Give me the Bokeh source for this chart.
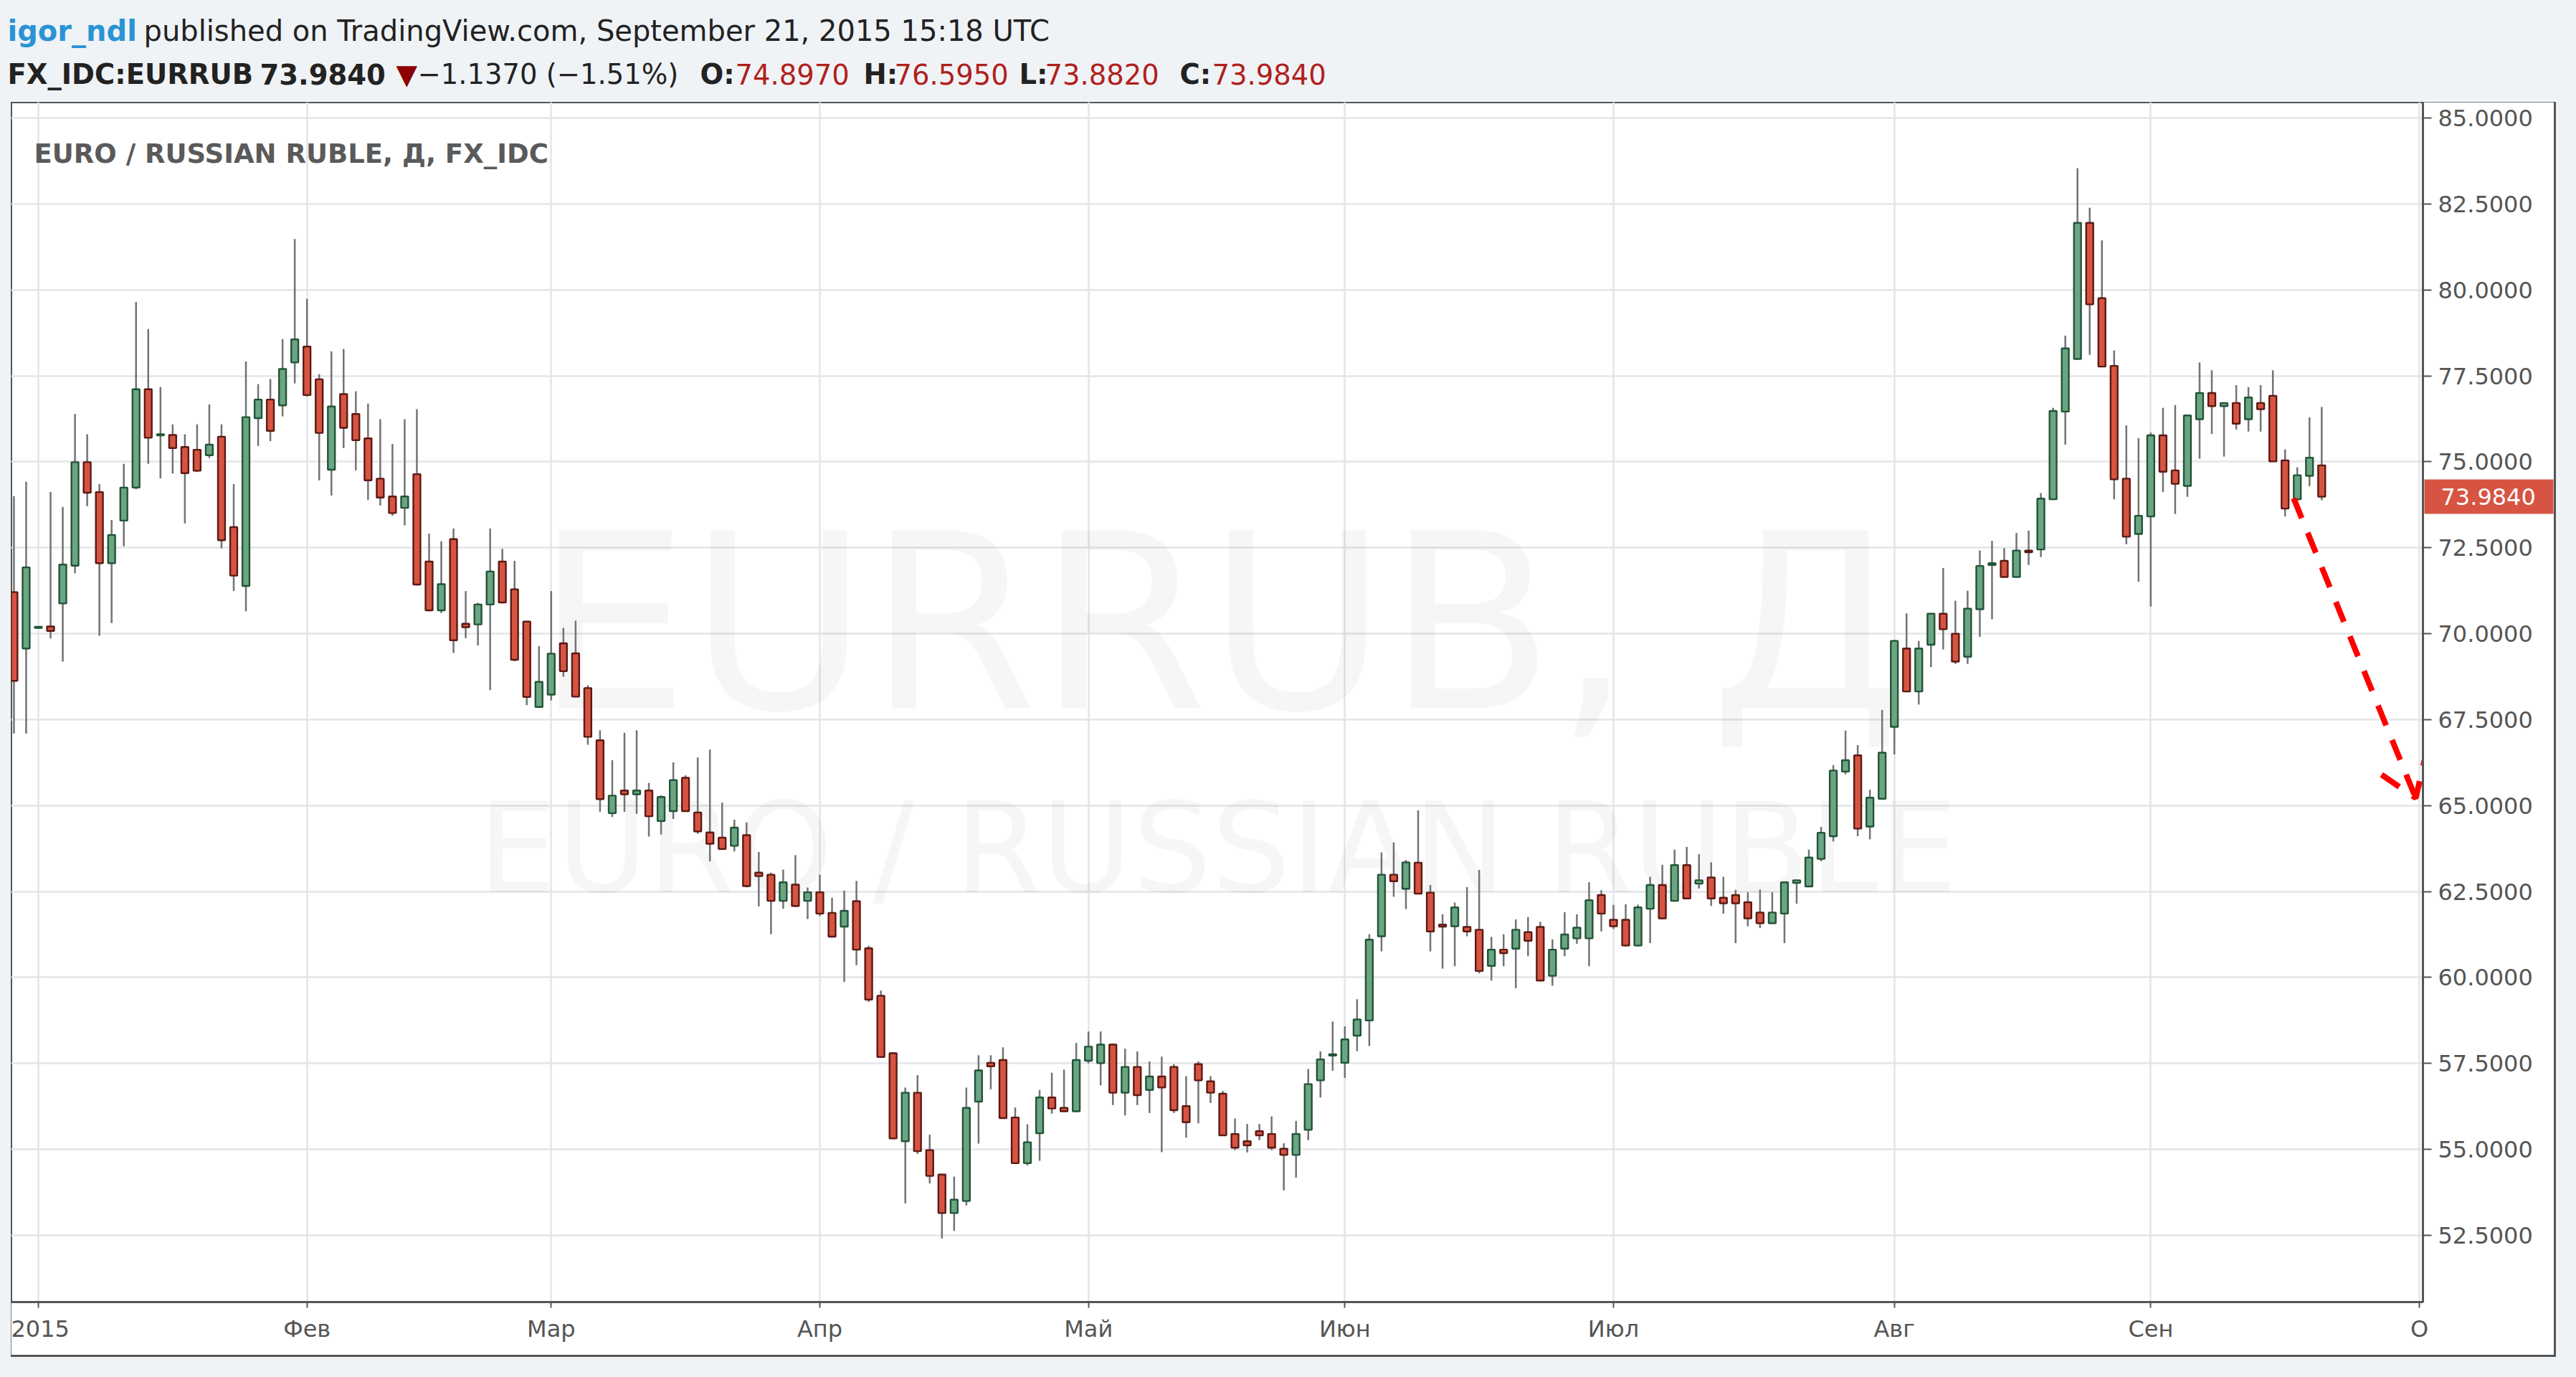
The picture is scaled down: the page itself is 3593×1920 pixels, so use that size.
import numpy as np
import pandas as pd
from bokeh.plotting import figure
from bokeh.models import (Range1d, FixedTicker, PrintfTickFormatter, Label, Spacer, ColumnDataSource,
                          LinearAxis)
from bokeh.layouts import column, row
from bokeh.core.properties import value
from bokeh.embed import file_html
from bokeh.resources import INLINE

# ---------------- data ----------------
dates = pd.bdate_range("2014-12-30", "2015-09-21")

opens = [
    71.21, 69.57, 70.17, 70.21, 70.88, 71.98, 74.99, 74.12, 72.05, 73.29,
    74.25, 77.11, 75.77, 75.78, 75.43, 75.35, 75.19, 75.73, 73.10, 71.39,
    76.27, 76.81, 76.64, 77.89, 78.35, 77.40, 74.77, 76.97, 76.39, 75.68,
    74.51, 73.99, 73.66, 74.64, 72.10, 70.68, 72.75, 70.29, 70.27, 70.85,
    72.10, 71.29, 70.35, 67.87, 68.23, 69.72, 69.43, 68.42, 66.90, 64.78,
    65.44, 65.33, 65.44, 64.55, 64.84, 65.81, 64.80, 64.22, 64.07, 63.83,
    64.14, 63.05, 62.99, 62.23, 62.70, 62.23, 62.48, 61.88, 61.48, 62.22,
    60.85, 59.47, 57.80, 55.24, 56.65, 54.98, 54.27, 53.15, 53.50, 56.39,
    57.52, 57.60, 55.93, 54.60, 55.47, 56.51, 56.21, 56.11, 57.58, 57.51,
    58.05, 56.65, 57.40, 56.73, 57.12, 57.40, 56.26, 57.48, 56.98, 56.62,
    55.45, 55.24, 55.53, 55.45, 55.02, 54.84, 55.57, 57.01, 57.73, 57.52,
    58.31, 58.75, 61.20, 62.99, 62.58, 63.34, 62.47, 61.54, 61.49, 61.47,
    61.39, 60.34, 60.81, 60.84, 61.32, 61.47, 60.05, 60.84, 61.14, 61.14,
    62.40, 61.68, 61.68, 60.93, 62.00, 62.69, 62.23, 63.27, 62.73, 62.91,
    62.32, 62.40, 62.19, 61.89, 61.58, 61.86, 62.75, 62.65, 63.45, 64.11,
    65.99, 66.46, 64.39, 65.20, 67.29, 69.57, 68.32, 69.68, 70.58, 70.00,
    69.33, 70.71, 72.00, 72.12, 71.65, 72.42, 72.45, 73.91, 76.46, 77.99,
    81.95, 79.76, 77.79, 74.51, 72.90, 73.41, 75.77, 74.75, 74.30, 76.24,
    77.00, 76.62, 76.71, 76.24, 76.71, 76.92, 75.04, 73.91, 74.59, 74.897,
]
highs = [
    74.00, 74.42, 70.22, 74.12, 73.69, 76.39, 75.80, 74.35, 73.31, 74.94,
    79.65, 78.86, 77.18, 76.09, 75.80, 76.09, 76.67, 76.09, 74.35, 77.92,
    77.26, 77.41, 78.57, 81.48, 79.74, 77.55, 78.21, 78.28, 77.05, 76.69,
    76.24, 75.52, 76.24, 76.53, 72.91, 72.69, 73.06, 71.24, 70.90, 73.06,
    72.47, 72.12, 70.38, 69.64, 71.24, 70.17, 70.38, 68.50, 67.19, 66.32,
    67.12, 67.19, 65.66, 65.30, 66.26, 65.88, 66.40, 66.63, 65.09, 64.59,
    64.51, 63.65, 63.05, 63.14, 63.56, 62.62, 62.99, 62.32, 62.53, 62.81,
    60.92, 59.62, 57.82, 56.80, 57.16, 55.43, 54.29, 54.21, 56.80, 57.74,
    57.74, 57.97, 56.22, 55.73, 56.73, 57.23, 57.32, 58.10, 58.43, 58.43,
    58.07, 57.93, 57.85, 57.56, 57.70, 57.48, 57.13, 57.56, 57.13, 56.70,
    55.90, 55.74, 55.74, 55.96, 55.18, 55.83, 57.34, 57.85, 58.72, 58.58,
    59.37, 61.26, 63.64, 63.93, 63.42, 64.86, 62.69, 61.84, 62.18, 62.63,
    63.13, 61.18, 61.26, 61.69, 61.76, 61.62, 61.11, 61.90, 61.84, 62.77,
    62.54, 62.11, 62.13, 62.12, 62.93, 63.28, 63.72, 63.80, 63.59, 63.35,
    62.93, 62.55, 62.48, 62.56, 62.48, 62.79, 62.85, 63.72, 64.38, 66.18,
    67.18, 66.76, 65.46, 67.78, 69.82, 70.59, 69.79, 70.60, 71.91, 70.96,
    71.25, 72.42, 72.70, 72.49, 72.93, 73.00, 74.09, 76.57, 78.67, 83.54,
    82.39, 81.44, 78.24, 76.06, 75.69, 75.85, 76.57, 76.65, 76.37, 77.89,
    77.66, 76.73, 77.23, 77.17, 77.23, 77.66, 75.36, 74.84, 76.29, 76.595,
]
lows = [
    67.10, 67.10, 70.15, 69.86, 69.19, 71.76, 73.71, 69.94, 70.31, 72.54,
    74.20, 74.94, 74.52, 74.66, 73.21, 74.70, 75.11, 72.48, 71.24, 70.65,
    75.46, 75.60, 76.32, 77.28, 76.90, 74.46, 74.02, 75.40, 74.75, 73.89,
    73.73, 73.43, 73.15, 71.40, 70.65, 70.60, 69.44, 69.87, 69.66, 68.36,
    70.88, 69.20, 67.92, 67.85, 68.06, 68.75, 68.15, 66.77, 64.82, 64.67,
    64.82, 64.76, 64.10, 64.16, 64.61, 64.82, 64.18, 63.38, 63.72, 63.67,
    62.62, 62.07, 61.26, 62.00, 62.05, 61.70, 61.79, 61.16, 59.87, 60.36,
    59.29, 57.67, 55.30, 53.43, 54.87, 54.01, 52.41, 52.63, 53.37, 55.17,
    56.75, 55.89, 54.58, 54.53, 54.67, 56.04, 56.09, 56.09, 57.50, 56.86,
    56.29, 55.99, 56.29, 56.06, 54.92, 56.06, 55.34, 55.76, 56.35, 55.39,
    54.98, 54.91, 55.27, 54.98, 53.81, 54.18, 55.27, 56.51, 57.29, 57.08,
    57.86, 58.01, 60.76, 62.35, 61.99, 62.42, 60.76, 60.26, 60.33, 61.20,
    60.12, 59.91, 60.33, 59.69, 60.62, 59.89, 59.76, 60.62, 60.98, 60.33,
    61.34, 61.41, 60.90, 60.90, 61.00, 61.70, 62.21, 62.28, 62.59, 62.08,
    61.86, 61.00, 61.49, 61.44, 61.56, 61.00, 62.15, 62.63, 63.38, 63.96,
    65.91, 64.11, 64.02, 65.18, 66.49, 68.30, 67.94, 69.03, 69.54, 69.12,
    69.12, 69.91, 70.42, 71.63, 71.63, 72.00, 72.23, 73.89, 75.50, 77.97,
    78.11, 77.75, 73.91, 72.60, 71.51, 70.79, 74.12, 73.48, 73.98, 75.09,
    75.81, 75.15, 75.94, 75.88, 75.88, 75.00, 73.41, 73.80, 74.29, 73.882,
]
closes = [
    68.63, 71.93, 70.20, 70.08, 72.01, 74.99, 74.10, 72.05, 72.87, 74.25,
    77.11, 75.70, 75.80, 75.40, 74.67, 74.74, 75.50, 72.72, 71.69, 76.30,
    76.81, 75.90, 77.70, 78.56, 76.94, 75.84, 76.61, 75.99, 75.63, 74.46,
    73.96, 73.51, 73.99, 71.43, 70.68, 71.44, 69.81, 70.19, 70.85, 71.81,
    70.91, 69.24, 68.16, 68.60, 69.42, 68.91, 68.17, 67.00, 65.19, 65.29,
    65.33, 65.44, 64.69, 65.25, 65.74, 64.84, 64.25, 63.89, 63.74, 64.36,
    62.66, 62.95, 62.23, 62.77, 62.08, 62.48, 61.86, 61.19, 61.94, 60.81,
    59.36, 57.69, 55.32, 56.65, 54.95, 54.23, 53.15, 53.54, 56.21, 57.30,
    57.42, 55.91, 54.60, 55.21, 56.51, 56.19, 56.11, 57.60, 57.99, 58.05,
    56.65, 57.40, 56.58, 57.12, 56.80, 56.14, 55.79, 57.01, 56.65, 55.41,
    55.05, 55.12, 55.41, 55.05, 54.84, 55.45, 56.90, 57.62, 57.77, 58.20,
    58.78, 61.10, 62.99, 62.80, 63.35, 62.44, 61.34, 61.48, 62.04, 61.34,
    60.19, 60.81, 60.71, 61.39, 61.07, 59.91, 60.81, 61.25, 61.45, 62.25,
    61.86, 61.49, 60.93, 62.04, 62.69, 61.72, 63.27, 62.30, 62.83, 62.30,
    62.16, 62.16, 61.72, 61.58, 61.89, 62.77, 62.83, 63.49, 64.21, 66.02,
    66.32, 64.33, 65.23, 66.54, 69.79, 68.32, 69.57, 70.58, 70.13, 69.19,
    70.73, 71.97, 72.05, 71.65, 72.42, 72.37, 73.93, 76.48, 78.30, 81.95,
    79.58, 77.77, 74.49, 72.82, 73.43, 75.77, 74.71, 74.36, 76.35, 77.00,
    76.62, 76.71, 76.11, 76.87, 76.53, 75.01, 73.64, 74.61, 75.121, 73.984,
]

month_labels = ["2015", "Фев", "Мар", "Апр", "Май", "Июн", "Июл", "Авг", "Сен", "О"]
price_ticks = [52.5, 55.0, 57.5, 60.0, 62.5, 65.0, 67.5, 70.0, 72.5, 75.0, 77.5, 80.0, 82.5, 85.0]

# hand-drawn forecast arrow (trading-day index, price)
arrow_x = [184.7, 194.7]
arrow_y = [73.94, 65.22]
head_x = [191.9, 194.7, 195.5]
head_y = [65.90, 65.22, 66.45]

# ---------------- derived ----------------
idx0 = list(dates).index(pd.Timestamp("2015-01-01"))
x = np.arange(len(dates)) - idx0
o = np.array(opens); h = np.array(highs); l = np.array(lows); c = np.array(closes)

cal = pd.bdate_range("2014-12-30", "2015-10-01")
month_ticks = [i - idx0 for i in range(1, len(cal)) if cal[i].month != cal[i - 1].month]

BG = "#f0f3f6"
FONT = "DejaVu Sans"
AX = "#555555"
LAST_RED = "#d75442"

# ---------------- chart ----------------
p = figure(width=3547, height=1747,
           x_range=Range1d(-2.231, 195.29), y_range=Range1d(50.561, 85.459),
           toolbar_location=None, output_backend="svg", y_axis_location="right",
           min_border_left=0, min_border_top=0, min_border_right=183, min_border_bottom=74,
           background_fill_color="white", border_fill_color="white",
           outline_line_color=AX, outline_line_width=3)
p.margin = (0, 3, 3, 0)

xa = p.xaxis[0]
xa.ticker = FixedTicker(ticks=month_ticks)
xa.major_label_overrides = {t: lab for t, lab in zip(month_ticks, month_labels)}
xa.major_label_text_font = FONT
xa.major_label_text_font_size = "32px"
xa.major_label_text_color = AX
xa.major_tick_out = 8
xa.major_tick_in = 0
xa.major_tick_line_color = AX
xa.major_tick_line_width = 2
xa.minor_tick_line_color = None
xa.axis_line_color = AX
xa.axis_line_width = 3
xa.major_label_standoff = 10

ya = p.yaxis[0]
ya.ticker = FixedTicker(ticks=price_ticks)
ya.formatter = PrintfTickFormatter(format="%.4f")
ya.major_label_text_font = FONT
ya.major_label_text_font_size = "32px"
ya.major_label_text_color = AX
ya.major_tick_out = 12
ya.major_tick_in = 0
ya.major_tick_line_color = AX
ya.major_tick_line_width = 2
ya.minor_tick_line_color = None
ya.axis_line_color = AX
ya.axis_line_width = 3
ya.major_label_standoff = 9

# last-price marker: a second right axis with a single thick tick folded back over the price scale
mk = LinearAxis(ticker=FixedTicker(ticks=[closes[-1]]), formatter=PrintfTickFormatter(format="%.4f"),
                axis_line_color=None, minor_tick_line_color=None,
                major_tick_in=154, major_tick_out=26, major_tick_line_color=LAST_RED,
                major_tick_line_width=48, major_tick_line_cap="butt",
                major_label_standoff=-157, major_label_text_color="white",
                major_label_text_font=FONT, major_label_text_font_size="32px")
p.add_layout(mk, "right")

p.xgrid.ticker = FixedTicker(ticks=month_ticks)
p.ygrid.ticker = FixedTicker(ticks=price_ticks)
p.grid.grid_line_color = "#e3e5e8"
p.grid.grid_line_width = 2.5

# watermark
p.add_layout(Label(x=96.6, y=70.3, text="EURRUB, Д", text_align="center", text_baseline="alphabetic",
                   text_font=FONT, text_font_size="341px", text_color="black", text_alpha=0.035,
                   level="underlay"))
p.add_layout(Label(x=96.6, y=63.75, text="EURO / RUSSIAN RUBLE", text_align="center",
                   text_baseline="alphabetic", text_font=FONT, text_font_size="174px",
                   text_color="black", text_alpha=0.035, level="underlay"))

# candles
up = c >= o
for mask, fill, edge in [(up, "#6ba583", "#225437"), (~up, "#d75442", "#5b1a13")]:
    src = ColumnDataSource(dict(x=x[mask], top=np.maximum(o, c)[mask], bottom=np.minimum(o, c)[mask],
                                high=h[mask], low=l[mask]))
    p.segment(x0="x", y0="low", x1="x", y1="high", source=src, line_color="#737375", line_width=2.5)
    p.vbar(x="x", width=0.58, top="top", bottom="bottom", source=src,
           fill_color=fill, line_color=edge, line_width=2.4)

# forecast arrow
p.line(arrow_x, arrow_y, line_color="#ff0000", line_width=8, line_dash="30 22")
p.line(head_x, head_y, line_color="#ff0000", line_width=8, line_dash="30 22")

# chart title
p.add_layout(Label(x=32, y=1601, x_units="screen", y_units="screen",
                   text="EURO / RUSSIAN RUBLE, Д, FX_IDC", text_font=FONT, text_font_style="bold",
                   text_font_size="37px", text_color="#5a5a5a", text_baseline="alphabetic"))

# ---------------- header ----------------
last, prev = closes[-1], closes[-2]
chg = last - prev
pct = chg / prev * 100
sign = "−" if chg < 0 else "+"
chg_txt = f"{sign}{abs(chg):.4f} ({sign}{abs(pct):.2f}%)"

line1_text = ["igor_ndl", "published on TradingView.com, September 21, 2015 15:18 UTC"]
line1_x = [10, 200]
line1_color = ["#2a93d5", "#222222"]
line1_style = ["bold", "normal"]

DARK, RED = "#222222", "#b0201c"
line2_text = ["FX_IDC:EURRUB", f"{last:.4f}", "▼", chg_txt,
              "O:", f"{opens[-1]:.4f}", "H:", f"{highs[-1]:.4f}",
              "L:", f"{lows[-1]:.4f}", "C:", f"{last:.4f}"]
line2_x = [10, 362, 552, 582, 976, 1025, 1204, 1247, 1421, 1457, 1645, 1690]
line2_color = [DARK, DARK, "#8b0000", DARK, DARK, RED, DARK, RED, DARK, RED, DARK, RED]
line2_style = ["bold", "bold", "normal", "normal", "bold", "normal",
               "bold", "normal", "bold", "normal", "bold", "normal"]

hdr = figure(width=3577, height=142, x_range=Range1d(0, 3577), y_range=Range1d(142, 0),
             toolbar_location=None, output_backend="svg", x_axis_location=None, y_axis_location=None,
             min_border=0, outline_line_color=None, background_fill_color=BG, border_fill_color=BG)
hdr.grid.visible = False
s1 = ColumnDataSource(dict(x=line1_x, y=[42] * 2, text=line1_text, color=line1_color, style=line1_style))
hdr.text(x="x", y="y", text="text", source=s1, text_color="color", text_font_style="style",
         text_font=value(FONT), text_font_size="40px", text_baseline="alphabetic", text_align="left")
s2 = ColumnDataSource(dict(x=line2_x, y=[103] * len(line2_x), text=line2_text, color=line2_color,
                           style=line2_style))
hdr.text(x="x", y="y", text="text", source=s2, text_color="color", text_font_style="style",
         text_font=value(FONT), text_font_size="38.5px", text_baseline="alphabetic", text_align="left")

box = row(p, styles={"background-color": AX})
layout = column(hdr, row(Spacer(width=15, height=1750), box))
html = file_html(layout, INLINE, title="EURRUB")
html = html.replace("</head>", "<style>html, body { background: #f0f3f6; }</style></head>", 1)
open("out.html", "w", encoding="utf-8").write(html)
